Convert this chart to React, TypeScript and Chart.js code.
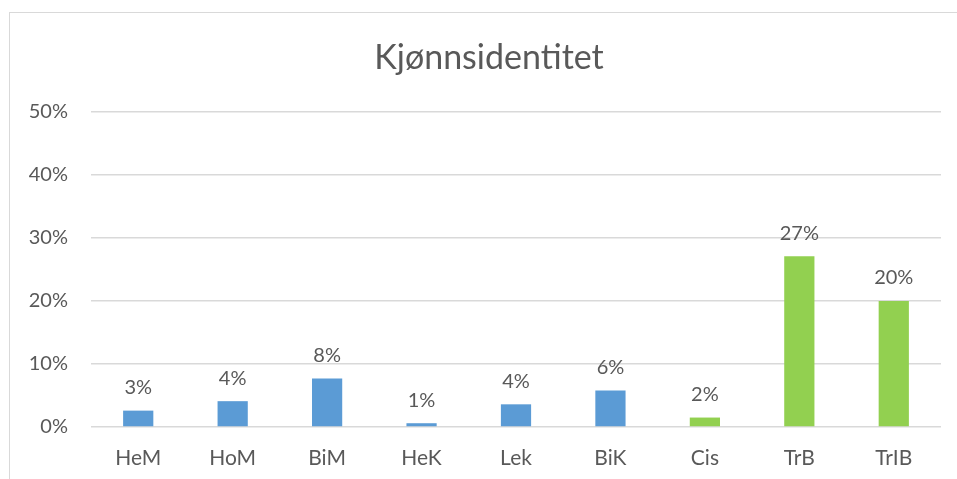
import React, { useEffect, useRef } from "react";
import { Chart, registerables } from "chart.js";

Chart.register(...registerables);

const categories = ["HeM", "HoM", "BiM", "HeK", "Lek", "BiK", "Cis", "TrB", "TrIB"];
const values = [2.6, 4.1, 7.7, 0.6, 3.6, 5.8, 1.5, 27.1, 20.0];
const labels = ["3%", "4%", "8%", "1%", "4%", "6%", "2%", "27%", "20%"];
const barColors = ["#5B9BD5", "#5B9BD5", "#5B9BD5", "#5B9BD5", "#5B9BD5", "#5B9BD5", "#92D050", "#92D050", "#92D050"];
const yTicks = [0, 10, 20, 30, 40, 50];
const titleText = "Kjønnsidentitet";

const FONT = "Lato, 'Open Sans', sans-serif";
const TEXT = "#595959";

const labelPlugin = {
  id: "barLabels",
  afterDatasetsDraw(chart: any) {
    const ctx = chart.ctx;
    const meta = chart.getDatasetMeta(0);
    ctx.save();
    ctx.fillStyle = TEXT;
    ctx.font = `20px ${FONT}`;
    ctx.textAlign = "center";
    ctx.textBaseline = "bottom";
    meta.data.forEach((bar: any, i: number) => {
      ctx.fillText(labels[i], bar.x, bar.y - 13);
    });
    ctx.restore();
  },
  afterDraw(chart: any) {
    const ctx = chart.ctx;
    ctx.save();
    ctx.fillStyle = TEXT;
    ctx.font = `34px ${FONT}`;
    ctx.textAlign = "center";
    ctx.textBaseline = "middle";
    ctx.fillText(titleText, 489, 58);
    ctx.restore();
  },
};

export default function App() {
  const ref = useRef<HTMLCanvasElement>(null);
  useEffect(() => {
    if (!ref.current) return;
    const chart = new Chart(ref.current, {
      type: "bar",
      data: {
        labels: categories,
        datasets: [
          {
            data: values,
            backgroundColor: barColors,
            borderWidth: 0,
            categoryPercentage: 1,
            barPercentage: 0.32,
          },
        ],
      },
      options: {
        responsive: false,
        animation: false,
        layout: { padding: { left: 0, right: 16, top: 112, bottom: 0 } },
        plugins: { legend: { display: false }, title: { display: false }, tooltip: { enabled: false } },
        scales: {
          x: {
            grid: { display: false, drawTicks: false },
            border: { display: false },
            ticks: { color: TEXT, font: { family: FONT, size: 21 }, padding: 19 },
            afterFit: (s: any) => {
              s.height = 52;
            },
          },
          y: {
            min: 0,
            max: 50,
            afterBuildTicks: (s: any) => {
              s.ticks = yTicks.map((v) => ({ value: v }));
            },
            grid: { color: "#d9d9d9", lineWidth: 1.5, drawTicks: false },
            border: { display: false },
            ticks: {
              color: TEXT,
              font: { family: FONT, size: 20 },
              padding: 23,
              callback: (v: any) => `${v}%`,
            },
            afterFit: (s: any) => {
              s.width = 91;
            },
          },
        },
      },
      plugins: [labelPlugin],
    });
    return () => chart.destroy();
  }, []);
  return (
    <div style={{ position: "absolute", left: 0, top: 0, width: 957, height: 479, background: "#fff", overflow: "hidden" }}>
      <div
        style={{
          position: "absolute",
          left: 9,
          top: 12,
          width: 960,
          height: 480,
          borderLeft: "1.5px solid #d9d9d9",
          borderTop: "1.5px solid #d9d9d9",
        }}
      />
      <canvas ref={ref} width={957} height={479} style={{ position: "absolute", left: 0, top: 0 }} />
    </div>
  );
}
